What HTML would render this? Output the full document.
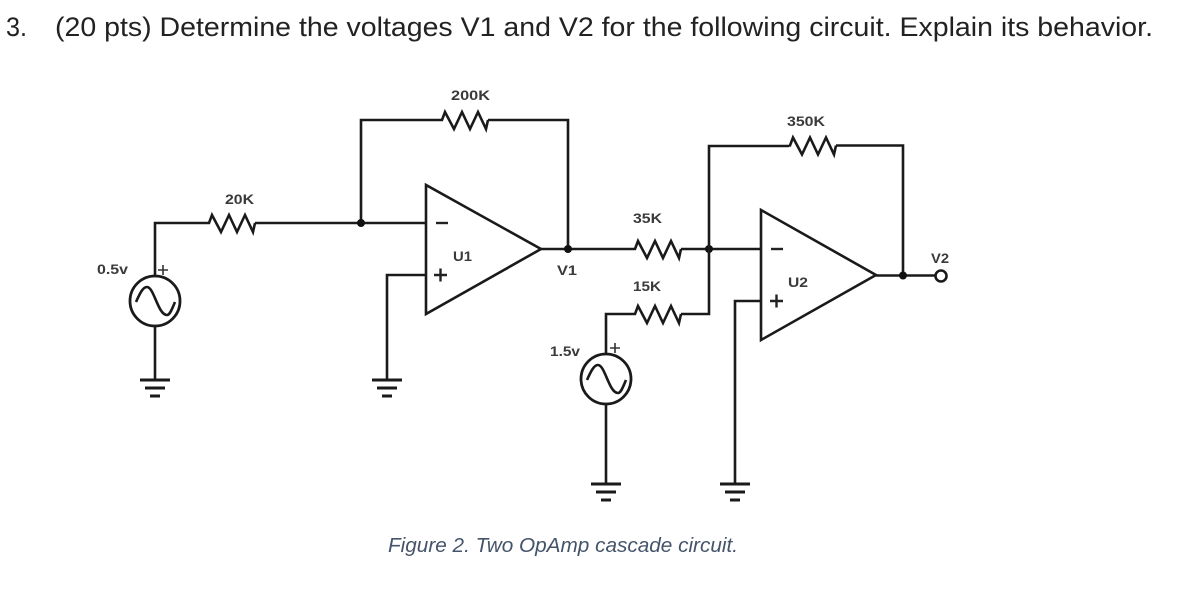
<!DOCTYPE html>
<html>
<head>
<meta charset="utf-8">
<style>
html,body{margin:0;padding:0;background:#fff;width:1179px;height:596px;overflow:hidden}
svg{display:block}
.w{fill:none;stroke:#1a1a1a;stroke-width:2.6;stroke-linejoin:miter}
.l{font-family:"Liberation Sans",sans-serif;font-weight:bold;font-size:14px;fill:#3a3a3a}
</style>
</head>
<body>
<svg width="1179" height="596" viewBox="0 0 1179 596" xmlns="http://www.w3.org/2000/svg">
<defs>
<path id="r" class="w" d="M0 0H1L4-8 13 9 21-8 29 9 37-8 45 9 47 0" />
<g id="g"><path d="M-15 0H15M-10 8H10M-5 16H5" fill="none" stroke="#1a1a1a" stroke-width="3"/></g>
<g id="s"><circle r="25" fill="#fff" stroke="#1a1a1a" stroke-width="2.8"/><path d="M-19 1C-15-8-12-14-8-14C-1-14 3 14 12 14C15 14 17 8 20 1" fill="none" stroke="#1a1a1a" stroke-width="2.6"/></g>
</defs>
<text x="6" y="36" font-family="'Liberation Sans',sans-serif" font-size="27" fill="#222" textLength="21" lengthAdjust="spacingAndGlyphs">3.</text>
<text x="55" y="36" font-family="'Liberation Sans',sans-serif" font-size="27" fill="#222" textLength="1098" lengthAdjust="spacingAndGlyphs">(20 pts) Determine the voltages V1 and V2 for the following circuit. Explain its behavior.</text>

<!-- Left input -->
<path class="w" d="M155 276V223H208M255 223H426"/>
<use href="#r" x="208" y="223"/>
<use href="#s" x="155" y="301"/>
<path class="w" d="M155 326V380"/>
<use href="#g" x="155" y="380"/>
<path class="w" d="M361 223V120H441M488 120H568V249"/>
<use href="#r" x="441" y="120"/>
<circle cx="361" cy="223" r="4" fill="#111"/>

<!-- U1 -->
<path class="w" d="M426 275H387V380"/>
<use href="#g" x="387" y="380"/>
<path class="w" style="fill:#fff" d="M426 185V314L541 249Z"/>
<path d="M436 223H448" stroke="#222" stroke-width="2.400"/>
<path d="M434 275H447M440.500 268.500V281.500" stroke="#222" stroke-width="2.400"/>
<path class="w" d="M541 249H634M681 249H761"/>
<circle cx="568" cy="249" r="4" fill="#111"/>
<use href="#r" x="634" y="249"/>
<circle cx="709" cy="249" r="4" fill="#111"/>

<!-- 15K branch -->
<path class="w" d="M606 354V314H634M681 314H709V146H789M836 145.500H903V275"/>
<use href="#r" x="634" y="314"/>
<use href="#r" x="789" y="145.500"/>
<use href="#s" x="606" y="379"/>
<path class="w" d="M606 404V484"/>
<use href="#g" x="606" y="484"/>
<path class="w" d="M761 301H735V484"/>
<use href="#g" x="735" y="484"/>

<!-- U2 -->
<path class="w" style="fill:#fff" d="M761 210V340L876 275Z"/>
<path d="M771 249H783" stroke="#222" stroke-width="2.400"/>
<path d="M770 301H783M776.500 294.500V307.500" stroke="#222" stroke-width="2.400"/>
<path class="w" d="M876 275.500H935"/>
<circle cx="903" cy="275.500" r="4" fill="#111"/>
<circle cx="941" cy="276" r="5.500" fill="#fff" stroke="#1a1a1a" stroke-width="2.600"/>

<!-- Plus marks -->
<path d="M158 270H168M163 265V275" stroke="#333" stroke-width="1.600"/>
<path d="M610 348H620M615 343V353" stroke="#333" stroke-width="1.600"/>

<!-- Labels -->
<text class="l" x="451" y="100" textLength="39" lengthAdjust="spacingAndGlyphs">200K</text>
<text class="l" x="225" y="204" textLength="29" lengthAdjust="spacingAndGlyphs">20K</text>
<text class="l" x="97" y="274" textLength="31" lengthAdjust="spacingAndGlyphs">0.5v</text>
<text class="l" x="453" y="261" textLength="19" lengthAdjust="spacingAndGlyphs">U1</text>
<text class="l" x="557" y="275" textLength="20" lengthAdjust="spacingAndGlyphs">V1</text>
<text class="l" x="633" y="223" textLength="29" lengthAdjust="spacingAndGlyphs">35K</text>
<text class="l" x="633" y="291" textLength="28" lengthAdjust="spacingAndGlyphs">15K</text>
<text class="l" x="550" y="356" textLength="30" lengthAdjust="spacingAndGlyphs">1.5v</text>
<text class="l" x="787" y="126" textLength="38" lengthAdjust="spacingAndGlyphs">350K</text>
<text class="l" x="788" y="287" textLength="20" lengthAdjust="spacingAndGlyphs">U2</text>
<text class="l" x="931" y="263" textLength="18" lengthAdjust="spacingAndGlyphs">V2</text>

<text x="388" y="552" font-family="'Liberation Sans',sans-serif" font-style="italic" font-size="20" fill="#44546a" textLength="350" lengthAdjust="spacingAndGlyphs">Figure 2. Two OpAmp cascade circuit.</text>
</svg>
</body>
</html>
